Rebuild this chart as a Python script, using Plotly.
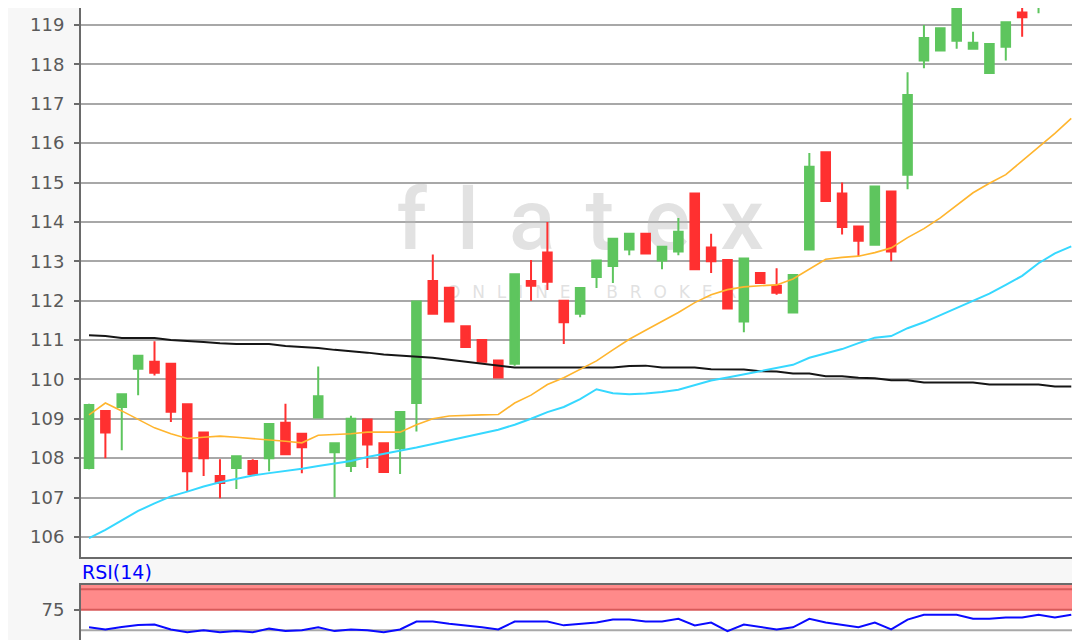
import plotly.graph_objects as go

# ---------------- data ----------------
idx = list(range(61))

opens = [107.75, 109.2, 109.3, 110.27, 110.45, 110.4, 109.37, 108.65, 107.55, 107.75,
         107.93, 108.0, 108.9, 108.62, 109.03, 108.15, 107.8, 108.98, 108.38, 108.25,
         109.4, 112.5, 112.33, 111.35, 111.0, 110.48, 110.4, 112.5, 113.22, 112.0,
         111.67, 112.6, 112.88, 113.3, 113.7, 113.02, 113.25, 114.72, 113.35, 113.03,
         111.47, 112.7, 112.38, 111.7, 113.3, 115.77, 114.72, 113.88, 113.42, 114.77,
         115.2, 118.1, 118.35, 118.6, 118.4, 117.78, 118.45, 119.32, 119.7, 119.75,
         119.9]
highs = [109.38, 109.22, 109.62, 110.6, 110.97, 110.4, 109.37, 108.65, 107.97, 108.05,
         107.97, 108.87, 109.38, 108.62, 110.33, 108.38, 109.08, 108.98, 108.4, 109.2,
         111.98, 113.17, 112.33, 111.35, 111.0, 110.48, 112.67, 113.03, 114.0, 112.0,
         112.32, 113.02, 113.57, 113.7, 113.7, 113.37, 114.1, 114.72, 113.7, 113.03,
         113.07, 112.7, 112.82, 112.65, 115.75, 115.77, 115.0, 113.88, 114.9, 114.77,
         117.8, 119.0, 118.92, 119.5, 118.83, 118.52, 119.07, 119.5, 120.1, 119.85,
         120.5]
lows = [107.72, 108.0, 108.2, 109.6, 110.1, 108.92, 107.15, 107.55, 106.98, 107.22,
        107.6, 107.67, 108.1, 107.62, 109.03, 107.0, 107.65, 107.75, 107.65, 107.6,
        108.68, 111.67, 111.47, 110.82, 110.45, 110.05, 110.35, 112.0, 112.27, 110.9,
        111.58, 112.32, 112.45, 113.15, 113.2, 112.8, 113.15, 112.8, 112.7, 111.8,
        111.2, 112.45, 112.15, 111.7, 113.3, 114.53, 113.68, 113.12, 113.42, 113.0,
        114.83, 117.9, 118.35, 118.4, 118.4, 117.78, 118.1, 118.7, 119.3, 119.5,
        119.8]
closes = [109.35, 108.65, 109.62, 110.6, 110.17, 109.18, 107.67, 108.0, 107.37, 108.05,
          107.6, 108.87, 108.1, 108.28, 109.57, 108.38, 109.0, 108.35, 107.65, 109.17,
          111.98, 111.67, 111.47, 110.82, 110.45, 110.05, 112.67, 112.38, 112.48, 111.45,
          112.32, 113.02, 113.57, 113.7, 113.2, 113.37, 113.75, 112.8, 113.0, 111.8,
          113.07, 112.45, 112.2, 112.65, 115.4, 114.53, 113.87, 113.52, 114.9, 113.25,
          117.22, 118.67, 118.92, 119.5, 118.55, 118.52, 119.07, 119.2, 120.0, 119.62,
          120.3]

ma_short = [109.1, 109.4, 109.2, 108.98, 108.77, 108.62, 108.5, 108.53, 108.56, 108.53,
            108.5, 108.47, 108.43, 108.39, 108.58, 108.6, 108.62, 108.66, 108.66, 108.66,
            108.85, 109.0, 109.07, 109.09, 109.1, 109.11, 109.4, 109.6, 109.87, 110.04,
            110.25, 110.47, 110.75, 111.02, 111.25, 111.47, 111.7, 111.95, 112.15, 112.28,
            112.35, 112.38, 112.4, 112.55, 112.8, 113.05, 113.1, 113.13, 113.22, 113.34,
            113.6, 113.83, 114.1, 114.42, 114.74, 114.98, 115.2, 115.55, 115.9, 116.25,
            116.63]
ma_mid = [105.97, 106.18, 106.42, 106.66, 106.85, 107.03, 107.15, 107.28, 107.39, 107.48,
          107.56, 107.62, 107.67, 107.73, 107.8, 107.87, 107.93, 108.03, 108.11, 108.18,
          108.27, 108.36, 108.45, 108.54, 108.63, 108.72, 108.85, 109.0, 109.17, 109.3,
          109.5, 109.75, 109.65, 109.62, 109.64, 109.68, 109.74, 109.85, 109.97, 110.05,
          110.13, 110.2, 110.28, 110.37, 110.55, 110.66, 110.77, 110.92, 111.06, 111.1,
          111.3, 111.45, 111.63, 111.8, 111.98, 112.18, 112.4, 112.63, 112.95, 113.2,
          113.38]
ma_long = [111.12, 111.1, 111.05, 111.05, 111.05, 111.0, 110.98, 110.95, 110.92, 110.9,
           110.9, 110.9, 110.85, 110.83, 110.8, 110.75, 110.72, 110.68, 110.63, 110.6,
           110.57, 110.55, 110.5, 110.45, 110.4, 110.35, 110.3, 110.3, 110.3, 110.3,
           110.3, 110.3, 110.3, 110.34, 110.35, 110.3, 110.3, 110.3, 110.26, 110.25,
           110.25, 110.21, 110.2, 110.15, 110.15, 110.08, 110.08, 110.04, 110.03, 109.98,
           109.98, 109.92, 109.92, 109.92, 109.92, 109.87, 109.87, 109.87, 109.87, 109.82,
           109.82]
rsi = [53.6, 51, 54, 56.5, 57, 51, 47.6, 50, 47.6, 49,
       47.6, 52, 49, 50, 53.6, 49, 51, 50, 47.6, 51,
       60.7, 60.7, 58, 56, 53.6, 51, 60.7, 60.7, 60.7, 56,
       57.5, 59.5, 63, 63, 60.7, 60.7, 64, 56, 59.5, 49,
       57, 53.6, 51, 53.6, 64, 59.5, 57, 53.6, 59.5, 51,
       63, 69, 69, 69, 64, 64, 65.5, 65.5, 69, 65.5,
       69]

price_ticks = list(range(106, 120))
rsi_ticks = [75]
rsi_upper, rsi_lower, rsi_mid = 100, 75, 50

# ---------------- figure ----------------
GREEN = "#5ec55e"
RED = "#ff3030"
AXIS = "#6a6a6a"
GRID = "#a8a8a8"
TICKFONT = dict(family="DejaVu Sans", size=18, color="#5a5a5a")

H = 640.0
XR = [-0.49, 60.35]
YR = [105.49, 119.432]
RR = [28.4, 105.2]

fig = go.Figure()

# watermark on the base price axes (drawn beneath the overlay)
sep = " \u200a"
fig.add_trace(go.Scatter(
    x=[30.0], y=[113.85], mode="text", text=[sep.join("flatex")],
    textfont=dict(family="Roboto", size=86, color="rgba(185,185,185,0.42)", weight=500),
    xaxis="x", yaxis="y", hoverinfo="skip", showlegend=False))
lsep = "\u2002\u2009"
fig.add_trace(go.Scatter(
    x=[30.7], y=[112.17], mode="text",
    text=[lsep.join("ONLINE") + lsep * 3 + lsep.join("BROKER")],
    textfont=dict(family="DejaVu Sans", size=17, color="rgba(200,200,200,0.55)"),
    xaxis="x", yaxis="y", hoverinfo="skip", showlegend=False))

fig.add_trace(go.Candlestick(
    x=idx, open=opens, high=highs, low=lows, close=closes,
    increasing=dict(line=dict(color=GREEN, width=2), fillcolor=GREEN),
    decreasing=dict(line=dict(color=RED, width=2), fillcolor=RED),
    whiskerwidth=0, xaxis="x", yaxis="y3", showlegend=False))

fig.add_trace(go.Scatter(x=idx, y=ma_long, mode="lines",
                         line=dict(color="#161616", width=2),
                         xaxis="x", yaxis="y3", showlegend=False))
fig.add_trace(go.Scatter(x=idx, y=ma_mid, mode="lines",
                         line=dict(color="#36d8ff", width=2),
                         xaxis="x", yaxis="y3", showlegend=False))
fig.add_trace(go.Scatter(x=idx, y=ma_short, mode="lines",
                         line=dict(color="#ffb52e", width=1.6),
                         xaxis="x", yaxis="y3", showlegend=False))

fig.add_trace(go.Scatter(x=idx, y=rsi, mode="lines",
                         line=dict(color="#0a0aff", width=2),
                         xaxis="x2", yaxis="y2", showlegend=False))

main_bottom = 1 - 549 / H
rsi_top = 1 - 577 / H

fig.update_layout(
    width=1080, height=640,
    margin=dict(l=73, r=11, t=0, b=0),
    paper_bgcolor="#f7f7f7", plot_bgcolor="#ffffff",
    boxgap=0.25,
    showlegend=False,
    xaxis=dict(domain=[0, 1], range=XR, anchor="y", showticklabels=False,
               showgrid=False, zeroline=False, showline=True, linecolor=AXIS,
               linewidth=2, mirror=False, ticks="", rangeslider=dict(visible=False)),
    yaxis=dict(domain=[main_bottom, 1], range=YR, anchor="x",
               tickvals=price_ticks, ticks="outside", ticklen=5, tickcolor=AXIS,
               tickwidth=1.5, tickfont=TICKFONT, ticklabelstandoff=6,
               showgrid=True, gridcolor=GRID, gridwidth=1.5, zeroline=False,
               showline=True, linecolor=AXIS, linewidth=2, mirror=True),
    yaxis3=dict(overlaying="y", range=YR, anchor="x", showgrid=False,
                showticklabels=False, zeroline=False, showline=False, ticks=""),
    xaxis2=dict(domain=[0, 1], range=XR, anchor="y2", showticklabels=False,
                showgrid=False, zeroline=False, showline=True, linecolor=AXIS,
                linewidth=2, mirror=True, ticks=""),
    yaxis2=dict(domain=[0, rsi_top], range=RR, anchor="x2",
                tickvals=rsi_ticks, ticks="outside", ticklen=5, tickcolor=AXIS,
                tickwidth=1.5, tickfont=TICKFONT, ticklabelstandoff=6,
                showgrid=False, zeroline=False, showline=True, linecolor=AXIS,
                linewidth=2, mirror=True),
    shapes=[
        dict(type="rect", xref="x2 domain", yref="y2", x0=0, x1=1,
             y0=rsi_lower, y1=RR[1], fillcolor="#ff8a8a", line=dict(width=0),
             layer="below"),
        dict(type="line", xref="x2 domain", yref="y2", x0=0, x1=1,
             y0=rsi_upper, y1=rsi_upper, line=dict(color="#d85a5a", width=2),
             layer="below"),
        dict(type="line", xref="x2 domain", yref="y2", x0=0, x1=1,
             y0=rsi_lower, y1=rsi_lower, line=dict(color="#d85a5a", width=2),
             layer="below"),
        dict(type="line", xref="x2 domain", yref="y2", x0=0, x1=1,
             y0=rsi_mid, y1=rsi_mid, line=dict(color=GRID, width=2),
             layer="below"),
    ],
    annotations=[
        dict(text="RSI(14)", xref="paper", yref="paper", x=0.0, y=1 - 576 / H,
             xanchor="left", yanchor="bottom", showarrow=False,
             font=dict(family="DejaVu Sans", size=19, color="#0000ff"),
             borderpad=0),
    ],
)

fig.write_html("out.html")
